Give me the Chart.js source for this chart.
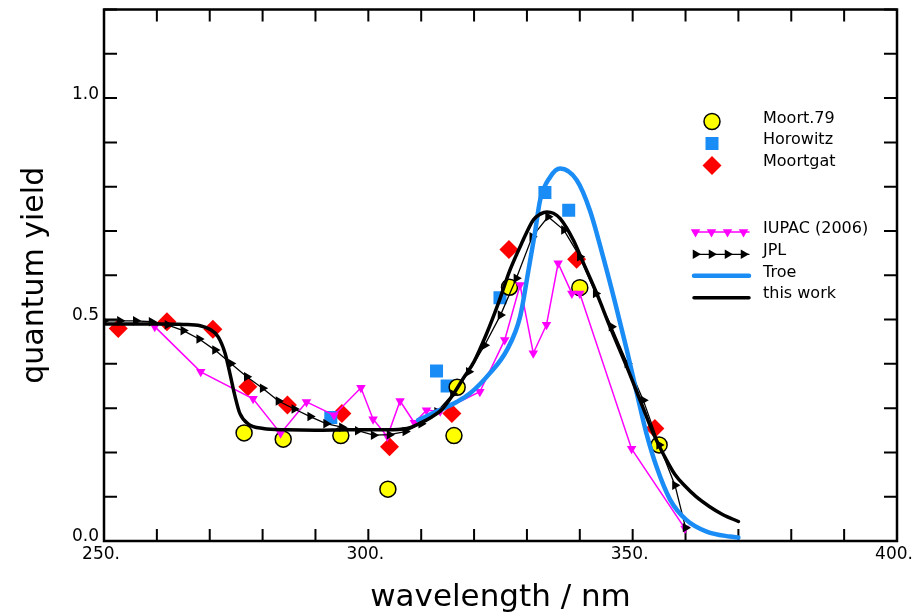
<!DOCTYPE html>
<html><head><meta charset="utf-8">
<script src="https://cdn.jsdelivr.net/npm/chart.js@4.4.1/dist/chart.umd.min.js"></script>
<style>html,body{margin:0;padding:0;background:#fff;}canvas{display:block;}</style>
</head><body>
<canvas id="c" width="916" height="614"></canvas>
<script>
// ---- data ----
const xTickLabels = ['250.', '300.', '350.', '400.'];
const yTickLabels = ['0.0', '0.5', '1.0'];

const moort79X = [276.5, 283.9, 294.8, 303.7, 316.2, 316.8, 326.7, 340.0, 355.0];
const moort79Y = [0.244, 0.230, 0.238, 0.117, 0.238, 0.347, 0.573, 0.572, 0.217];

const horowitzX = [292.9, 312.9, 314.9, 324.9, 333.4, 337.9];
const horowitzY = [0.279, 0.384, 0.350, 0.549, 0.787, 0.747];

const moortgatX = [252.7, 261.9, 270.6, 277.2, 284.7, 295.0, 304.0, 315.8, 326.6, 339.4, 354.2];
const moortgatY = [0.480, 0.495, 0.478, 0.348, 0.307, 0.288, 0.213, 0.288, 0.658, 0.636, 0.254];

const iupacX = [259.6, 268.3, 278.2, 283.4, 288.3, 293.5, 298.6, 300.9, 303.6, 306.0, 308.7, 311.0, 313.6, 321.1, 325.8, 328.7, 331.2, 333.7, 335.9, 338.5, 340.0, 349.8, 359.9];
const iupacY = [0.484, 0.382, 0.321, 0.243, 0.314, 0.284, 0.346, 0.275, 0.236, 0.316, 0.267, 0.295, 0.293, 0.337, 0.454, 0.578, 0.424, 0.488, 0.627, 0.559, 0.559, 0.208, 0.028];

const jplX = [250, 253, 256, 259, 262, 265, 268, 271, 274, 277, 280, 283, 286, 289, 292, 295, 298, 301, 304, 307, 310, 313, 316, 319, 322, 325, 328, 331, 334, 337, 340, 343, 346, 349, 352, 355, 358, 360];
const jplY = [0.497, 0.497, 0.497, 0.495, 0.488, 0.475, 0.456, 0.431, 0.401, 0.371, 0.345, 0.316, 0.298, 0.281, 0.265, 0.257, 0.249, 0.239, 0.240, 0.247, 0.265, 0.292, 0.332, 0.382, 0.442, 0.510, 0.593, 0.687, 0.732, 0.702, 0.642, 0.559, 0.484, 0.401, 0.318, 0.217, 0.126, 0.030];

const troeX = [309.4, 313.6, 316.7, 319.2, 323.0, 326.2, 328.7, 330.3, 331.5, 332.5, 334.4, 336.3, 339.4, 341.9, 344.4, 346.7, 348.9, 350.8, 352.6, 354.5, 357.1, 360.2, 364.0, 368.4, 370.0];
const troeY = [0.273, 0.296, 0.314, 0.333, 0.379, 0.431, 0.506, 0.612, 0.695, 0.770, 0.822, 0.841, 0.815, 0.747, 0.642, 0.537, 0.431, 0.333, 0.243, 0.168, 0.093, 0.047, 0.021, 0.010, 0.008];

const thisWorkX = [250, 255, 260, 265, 268.2, 270.0, 271.6, 272.9, 273.8, 274.8, 275.7, 277.3, 280.1, 284.6, 290, 296.5, 303.5, 307.3, 309.8, 312, 314, 316, 318, 320, 322.4, 324.6, 326.8, 329.0, 331.2, 332.5, 333.8, 335.0, 336.3, 338.8, 340.7, 343.2, 345.7, 348.9, 351.4, 353.9, 356.2, 358.0, 359.9, 362.0, 364.5, 367.0, 370.0];
const thisWorkY = [0.490, 0.490, 0.490, 0.489, 0.486, 0.478, 0.461, 0.424, 0.379, 0.326, 0.288, 0.264, 0.254, 0.251, 0.250, 0.251, 0.251, 0.254, 0.266, 0.280, 0.298, 0.330, 0.368, 0.405, 0.469, 0.537, 0.612, 0.672, 0.725, 0.738, 0.743, 0.740, 0.728, 0.679, 0.627, 0.559, 0.484, 0.393, 0.318, 0.243, 0.187, 0.150, 0.124, 0.100, 0.078, 0.060, 0.044];

const pts = (xs, ys) => xs.map((x, i) => ({x: x, y: ys[i]}));

const BLUE = '#1a8cf5';
const FONT = "'DejaVu Sans', 'Liberation Sans', sans-serif";
Chart.defaults.font.family = FONT;
Chart.defaults.color = '#000';

const datasets = [
  { label: 'this work', data: pts(thisWorkX, thisWorkY), showLine: true, borderColor: '#000', borderWidth: 3.5,
    pointRadius: 0, cubicInterpolationMode: 'monotone', borderCapStyle: 'round', order: 1 },
  { label: 'Troe', data: pts(troeX, troeY), showLine: true, borderColor: BLUE, borderWidth: 4.5,
    pointRadius: 0, cubicInterpolationMode: 'monotone', borderCapStyle: 'round', order: 2 },
  { label: 'JPL', data: pts(jplX, jplY), showLine: true, borderColor: '#000', borderWidth: 1.3,
    pointStyle: 'triangle', pointRotation: 90, pointRadius: 5.5, pointBackgroundColor: '#000', pointBorderWidth: 0, order: 3 },
  { label: 'IUPAC (2006)', data: pts(iupacX, iupacY), showLine: true, borderColor: '#ff00ff', borderWidth: 1.5,
    pointStyle: 'triangle', pointRotation: 180, pointRadius: 5.5, pointBackgroundColor: '#ff00ff', pointBorderWidth: 0, order: 4 },
  { label: 'Moort.79', data: pts(moort79X, moort79Y), showLine: false, pointStyle: 'circle', pointRadius: 8,
    pointBackgroundColor: '#ffff00', pointBorderColor: '#000', pointBorderWidth: 1.5, order: 5 },
  { label: 'Horowitz', data: pts(horowitzX, horowitzY), showLine: false, pointStyle: 'rect', pointRadius: 9.2,
    pointBackgroundColor: BLUE, pointBorderColor: BLUE, pointBorderWidth: 0, order: 6 },
  { label: 'Moortgat', data: pts(moortgatX, moortgatY), showLine: false, pointStyle: 'rectRot', pointRadius: 9.5,
    pointBackgroundColor: '#ff0000', pointBorderColor: '#ff0000', pointBorderWidth: 0, order: 7 }
];

const legendRows = [
  { label: 'Moort.79', y: 121.5, base: 122.5 },
  { label: 'Horowitz', y: 143.5, base: 144 },
  { label: 'Moortgat', y: 165.5, base: 166 },
  { label: 'IUPAC (2006)', y: 232, base: 232.5 },
  { label: 'JPL', y: 254.3, base: 255 },
  { label: 'Troe', y: 275.7, base: 276.7 },
  { label: 'this work', y: 297.7, base: 298.3 }
];

const framePlugin = {
  id: 'frame',
  beforeDatasetsDraw(chart) {
    const { ctx, chartArea: a, scales: { x, y } } = chart;
    ctx.save();
    ctx.strokeStyle = '#000';
    ctx.lineWidth = 2;
    ctx.beginPath();
    x.ticks.forEach(t => {
      const px = x.getPixelForValue(t.value);
      ctx.moveTo(px, a.bottom); ctx.lineTo(px, a.bottom - 12);
      ctx.moveTo(px, a.top); ctx.lineTo(px, a.top + 12);
    });
    y.ticks.forEach(t => {
      const py = y.getPixelForValue(t.value);
      ctx.moveTo(a.left, py); ctx.lineTo(a.left + 13, py);
      ctx.moveTo(a.right, py); ctx.lineTo(a.right - 13, py);
    });
    ctx.stroke();
    ctx.lineWidth = 2.5;
    ctx.strokeRect(a.left, a.top, a.right - a.left, a.bottom - a.top);
    ctx.restore();
  },
  afterDraw(chart) {
    const ctx = chart.ctx;
    ctx.save();
    legendRows.forEach(r => {
      const ds = chart.data.datasets.find(d => d.label === r.label);
      if (ds.showLine) {
        ctx.strokeStyle = ds.borderColor;
        ctx.lineWidth = ds.borderWidth;
        ctx.lineCap = 'round';
        ctx.beginPath(); ctx.moveTo(694, r.y); ctx.lineTo(749, r.y); ctx.stroke();
        if (ds.pointRadius > 0) {
          [695.5, 711.5, 727.5, 743.5].forEach(px => {
            ctx.fillStyle = ds.pointBackgroundColor;
            Chart.helpers.drawPoint(ctx, { pointStyle: ds.pointStyle, rotation: ds.pointRotation, radius: ds.pointRadius, borderWidth: 0 }, px, r.y);
          });
        }
      } else {
        ctx.fillStyle = ds.pointBackgroundColor;
        ctx.strokeStyle = ds.pointBorderColor;
        ctx.lineWidth = ds.pointBorderWidth;
        Chart.helpers.drawPoint(ctx, { pointStyle: ds.pointStyle, rotation: 0, radius: ds.pointRadius, borderWidth: ds.pointBorderWidth }, 712, r.y);
      }
      ctx.fillStyle = '#000';
      ctx.font = '16px ' + FONT;
      ctx.textAlign = 'left';
      ctx.textBaseline = 'alphabetic';
      ctx.fillText(ds.label, 763, r.base);
    });
    ctx.restore();
  }
};

new Chart(document.getElementById('c'), {
  type: 'scatter',
  data: { datasets: datasets },
  options: {
    responsive: false,
    animation: false,
    devicePixelRatio: 1,
    events: [],
    layout: { padding: { left: 0, right: 19, top: 9, bottom: 0 } },
    plugins: { legend: { display: false }, tooltip: { enabled: false } },
    scales: {
      x: {
        type: 'linear', position: 'bottom', min: 250, max: 400,
        grid: { display: false, drawTicks: false }, border: { display: false },
        ticks: {
          stepSize: 10, autoSkip: false, maxRotation: 0, padding: 3, labelOffset: -3,
          font: { size: 17 }, color: '#000',
          callback: v => xTickLabels.find(s => Math.abs(parseFloat(s) - v) < 1e-6) || ''
        },
        title: { display: true, text: 'wavelength / nm', font: { size: 31, lineHeight: 1 }, color: '#000', padding: { top: 0, bottom: 1 } },
        afterFit: s => { s.height = 73; s.paddingLeft = 0; s.paddingRight = 0; }
      },
      y: {
        type: 'linear', position: 'left', min: 0, max: 1.2,
        grid: { display: false, drawTicks: false }, border: { display: false },
        ticks: {
          stepSize: 0.1, autoSkip: false, padding: 5, labelOffset: -4,
          font: { size: 17 }, color: '#000',
          callback: v => yTickLabels.find(s => Math.abs(parseFloat(s) - v) < 1e-6) || ''
        },
        title: { display: true, text: 'quantum yield', font: { size: 30, lineHeight: 1 }, color: '#000', padding: { top: 20, bottom: 0 } },
        afterFit: s => { s.width = 104; s.paddingTop = 0; s.paddingBottom = 0; }
      }
    }
  },
  plugins: [framePlugin]
});
</script>
</body></html>
